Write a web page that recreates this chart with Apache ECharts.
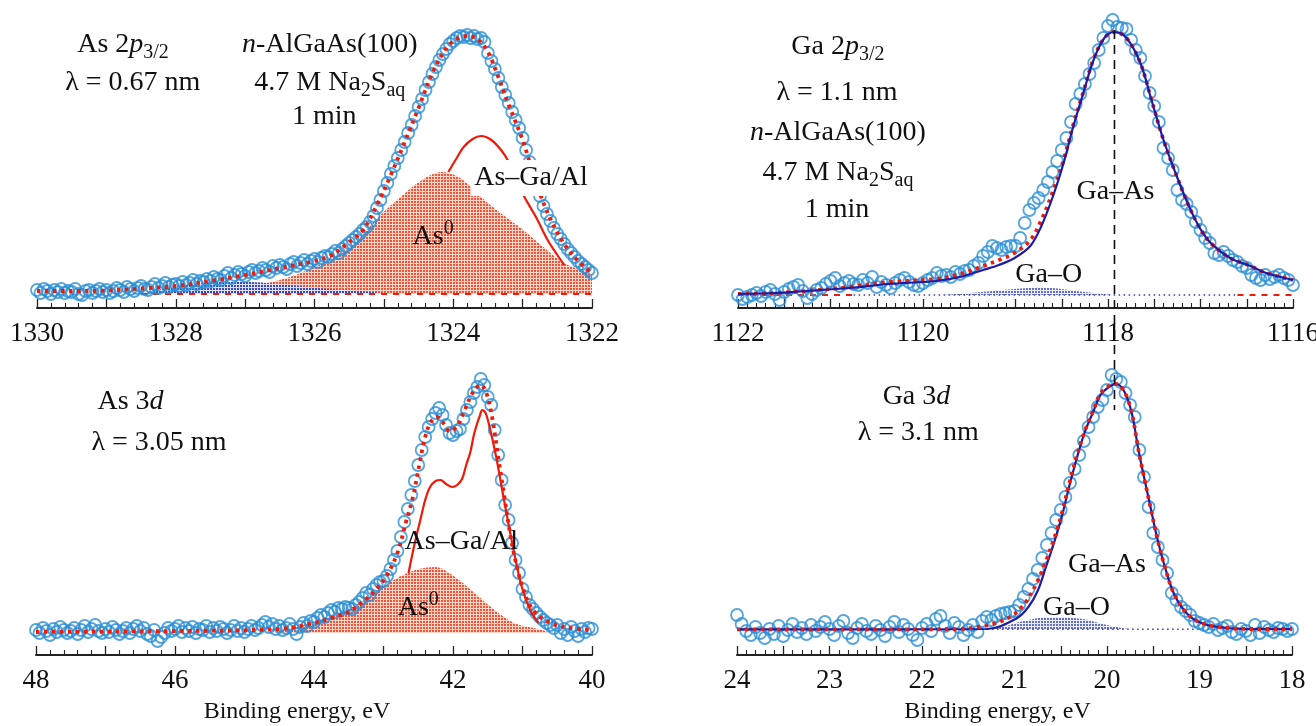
<!DOCTYPE html>
<html><head><meta charset="utf-8">
<script src="https://cdn.jsdelivr.net/npm/echarts@6/dist/echarts.min.js"></script>
<style>html,body{margin:0;padding:0;background:#fff}#c{width:1316px;height:726px}</style>
</head><body><div id="c"></div>
<script>
// ===================== DATA =====================
// Intensities are in arbitrary units (same scale inside each panel).
// ---- As 2p3/2 (binding energy, eV) ----
const as2pCircleStart = 1330, as2pCircleStep = -0.05;
const as2pCircles = [18,15,19,17,14,18,16,19,15,17,
 16,19,14,13,17,18,15,17,19,16,
 18,15,17,20,18,16,21,19,17,20,
 22,19,18,21,24,20,22,25,21,23,
 24,22,26,23,25,28,24,27,26,29,
 27,31,29,28,32,35,30,33,36,34,
 32,36,38,35,37,40,38,36,42,40,
 43,41,39,44,46,42,45,48,44,47,
 49,46,50,52,51,54,57,55,59,62,
 65,68,71,74,78,81,86,92,100,108,
 117,125,134,142,150,158,166,175,183,192,
 201,209,218,226,234,241,248,254,259,264,
 267,270,272,271,273,270,272,269,270,266,
 255,247,239,230,221,213,205,196,188,180,
 170,158,146,134,122,112,102,94,87,80,
 74,69,64,59,55,51,47,44,41,38,
 35];
const as2pFitX = [1330,1329.5,1329,1328.5,1328,1327.5,1327,1326.5,1326,1325.75,1325.5,1325.3,1325.1,1324.9,1324.7,1324.5,1324.3,1324.1,1323.95,1323.8,1323.65,1323.5,1323.35,1323.2,1323.0,1322.8,1322.6,1322.4,1322.2,1322.0];
const as2pFitY = [17,17,17.5,19.5,22,27,33,40,47,53,66,78,103,133,166,200,235,260,269,272,269,256,231,203,168,124,89,64,47,35];
const as2pAs0X = [1328.2,1327.5,1327.0,1326.5,1326.0,1325.5,1325.05,1324.76,1324.45,1324.16,1323.9,1323.6,1323.3,1322.99,1322.7,1322.4,1322.0];
const as2pAs0Y = [15,17,21,28,41,60,93,111,128,136,130,111,94,78,61,45,34];
const as2pAsGaX = [1324.07,1323.95,1323.85,1323.72,1323.6,1323.45,1323.3,1323.2,1323.1,1322.99,1322.8,1322.64,1322.5,1322.4];
const as2pAsGaY = [136,150,161,169,172,168,157,146,130,113,90,68,53,43];
const as2pOxX = [1328.5,1328.2,1327.9,1327.6,1327.3,1327.0,1326.7,1326.4,1326.1,1325.8,1325.5,1325.2,1324.9];
const as2pOxY = [14,19,23,25,26,26,25,23,21,19,17.5,16,14];
const as2pBaseX = [1328.5, 1322];
const as2pBase = 14;

// ---- Ga 2p3/2 ----
const ga2pCircleStart = 1122, ga2pCircleStep = -0.05;
const ga2pCircles = [13,9,11,13,15,12,16,18,14,8,
 16,19,21,23,17,10,14,18,20,24,
 27,30,22,25,27,24,23,28,25,31,
 21,26,23,20,25,28,30,26,23,22,
 25,28,30,35,32,33,31,36,34,37,
 38,42,45,52,56,62,60,58,61,62,
 62,70,85,98,105,110,118,126,136,147,
 158,170,186,204,214,224,234,245,258,270,
 282,288,281,280,279,268,258,250,232,215,
 202,186,160,150,138,118,108,104,96,86,
 78,70,65,55,53,56,52,48,46,42,
 40,33,30,28,33,29,31,33,30,28,
 23];
const ga2pFitX = [1122.0,1121.6,1121.26,1120.8,1120.37,1119.86,1119.6,1119.35,1119.18,1119.01,1118.84,1118.72,1118.59,1118.48,1118.38,1118.27,1118.16,1118.04,1117.93,1117.8,1117.65,1117.53,1117.4,1117.27,1117.14,1117.02,1116.89,1116.68,1116.46,1116.29,1116.0];
const ga2pFitY = [14,15,17,21,26,29,34,42,48,55,68,88,118,148,182,215,248,270,276,270,245,208,168,135,105,82,65,50,42,35,28];
const ga2pGaAsY = [14,15,17,20,24,27,31,38,43,50,62,82,113,145,180,214,247,270,276,270,245,208,168,135,105,82,65,50,42,35,28];
const ga2pGaOX = [1119.8,1119.5,1119.2,1118.95,1118.75,1118.55,1118.35,1118.15,1117.95];
const ga2pGaOY = [13,15,17.5,19.5,20.5,19.5,17,15,13];
const ga2pBase = 13;
const ga2pRedBaseX = [1122, 1120.75, null, 1116.6, 1116];
const ga2pBlueBaseX = [1120.75, 1116.6];
const ga2pPeak = 1117.93, ga2pPeakTop = 278;

// ---- As 3d ----
const as3dCircleStart = 48, as3dCircleStep = -0.05;
const as3dCircles = [25,22,27,24,20,26,23,28,25,22,
 24,27,21,25,29,23,26,30,24,22,
 26,23,28,25,21,24,27,22,26,29,
 24,27,21,19,25,14,18,22,27,24,
 26,29,23,27,24,28,22,26,25,29,
 23,27,24,28,26,22,25,29,24,27,
 23,26,29,25,27,30,33,28,31,26,
 29,25,27,31,26,21,28,32,29,34,
 33,37,40,38,42,45,43,47,46,48,
 47,46,50,53,57,62,60,66,70,73,
 74,79,86,95,104,118,133,146,160,174,
 190,205,218,228,236,242,247,240,230,222,
 220,224,226,236,245,253,262,268,276,270,
 258,250,225,200,175,150,135,112,95,82,
 66,58,50,46,42,38,35,32,30,27,
 30,22,26,20,28,24,19,26,23,27,
 26];
const as3dFitX = [48,46,44.5,44.0,43.7,43.5,43.3,43.1,42.95,42.8,42.68,42.57,42.48,42.4,42.32,42.23,42.15,42.05,41.95,41.85,41.75,41.67,41.6,41.52,41.43,41.35,41.26,41.18,41.1,41.0,40.85,40.6,40.3,40.0];
const as3dFitY = [23,24,26,32,38,43,53,66,80,102,132,160,192,218,233,238,233,224,228,242,258,267,270,262,235,198,158,122,94,68,45,32,27,25];
const as3dAsGaX = [42.64,42.55,42.47,42.4,42.33,42.25,42.18,42.1,42.01,41.94,41.87,41.81,41.75,41.7,41.65,41.61,41.58,41.54,41.51,41.44,41.37,41.3,41.22,41.12,41.01,40.89,40.77];
const as3dAsGaY = [82,112,135,155,168,174,175,171,168,170,176,190,203,220,232,240,245,243,238,218,195,168,138,102,68,45,32];
const as3dAs0X = [44.6,44.25,43.97,43.68,43.4,43.11,42.83,42.54,42.26,41.97,41.69,41.4,41.12,40.84,40.55];
const as3dAs0Y = [22,28,34,40,50,63,76,85,88,78,62,45,32,27,22];
const as3dBase = 22;

// ---- Ga 3d ----
const ga3dCircleStart = 24, ga3dCircleStep = -0.05;
const ga3dCircles = [40,31,24,20,28,22,17,26,21,29,
 19,25,31,23,27,21,30,24,28,33,
 26,20,29,34,22,17,27,31,24,21,
 29,25,19,28,33,23,30,26,20,15,
 27,31,24,36,39,29,22,32,28,20,
 25,30,23,34,38,35,39,41,42,43,
 44,50,58,66,76,85,97,110,122,135,
 145,158,172,186,200,214,228,238,248,255,
 265,280,276,273,262,250,238,205,178,148,
 122,108,95,82,62,55,48,44,40,34,
 32,30,28,31,25,27,29,23,21,26,
 24,20,30,22,28,25,23,27,26,24,
 26];
const ga3dFitX = [24,22,21.6,21.4,21.2,21.0,20.87,20.75,20.66,20.58,20.49,20.41,20.32,20.24,20.15,20.07,19.98,19.9,19.81,19.73,19.66,19.6,19.53,19.46,19.38,19.27,19.12,18.95,18.7,18.4,18.0];
const ga3dFitY = [25.7,25.7,26,28,32,41,54,74,94,114,141,171,201,224,244,261,269,271,263,241,205,178,148,118,90,60,40,31,27,26,26];
const ga3dGaAsX = [24,22.5,21.3,20.97,20.85,20.75,20.66,20.58,20.49,20.41,20.32,20.24,20.15,20.07,19.98,19.9,19.81,19.73,19.66,19.6,19.53,19.46,19.38,19.27,19.12,18.95,18.7,18.4,18.0];
const ga3dGaAsY = [25.7,25.7,26,37,48,64,88,110,138,168,199,223,243,260,268,271,263,241,205,178,148,118,90,60,40,31,27,26,26];
const ga3dGaOX = [21.35,21.1,20.95,20.8,20.65,20.5,20.35,20.2,20.05,19.9,19.75];
const ga3dGaOY = [25.7,29,33,36,38,38,37,35,31,28,25.7];
const ga3dBase = 25.7;
const ga3dBlueBaseX = [21.35, 18.9];
const ga3dPeak = 19.9, ga3dLineEnd = 245;

// ===================== RENDER =====================
const FONT = '"Liberation Serif", "Times New Roman", serif';
const RED = '#ee1a0a', CIRC = '#2a8fd6', NAVY = '#1c1ca6';
const chart = echarts.init(document.getElementById('c'), null, {renderer: 'canvas'});

function pattern(bg, dot, size, d) {
  const c = document.createElement('canvas'); c.width = size; c.height = size;
  const ctx = c.getContext('2d');
  if (bg) { ctx.fillStyle = bg; ctx.fillRect(0, 0, size, size); }
  ctx.fillStyle = dot; ctx.fillRect(0, 0, d, d);
  return {image: c, repeat: 'repeat'};
}
const redPat = pattern('#fcd6c8', '#f0553a', 3, 2);
const bluePat = pattern('#dfe2f6', '#3c46b6', 3, 2);
const bluePatLight = pattern('#eceefa', '#6470c8', 3, 2);

const pairs = (xs, ys) => xs.map((x, i) => [x, ys[i]]);
const stepped = (s, st, ys) => ys.map((y, i) => [+(s + i * st).toFixed(3), y]);
const flat = (xs, b) => xs.map(x => x === null ? [null, null] : [x, b]);

function xAxis(gi, min, max, interval, labelEvery, name) {
  const ax = {
    type: 'value', gridIndex: gi, min, max, interval, inverse: true,
    axisLine: {show: true, onZero: false, lineStyle: {color: '#222', width: 2}},
    axisTick: {show: true, inside: true, length: 9, lineStyle: {color: '#222', width: 1.3}},
    minorTick: {show: true, splitNumber: 5, length: 5, lineStyle: {color: '#222', width: 1.1}},
    splitLine: {show: false}, minorSplitLine: {show: false},
    axisLabel: {margin: 12, fontFamily: FONT, fontSize: 27, color: '#111', showMinLabel: true, showMaxLabel: true,
      formatter: v => (Math.abs(v / labelEvery - Math.round(v / labelEvery)) < 1e-6 ? String(Math.round(v)) : '')}
  };
  if (name) {
    Object.assign(ax, {name, nameLocation: 'middle', nameGap: 45,
      nameTextStyle: {fontFamily: FONT, fontSize: 24, color: '#111', padding: [0, 34, 0, 0]}});
  }
  return ax;
}
const yAxis = gi => ({type: 'value', gridIndex: gi, min: 0, max: 288, show: false});

const circles = (gi, data) => ({type: 'scatter', xAxisIndex: gi, yAxisIndex: gi, data, symbol: 'circle', symbolSize: 12, silent: true, z: 3,
  itemStyle: {color: 'rgba(255,255,255,0)', borderColor: CIRC, borderWidth: 1.8}});
const fit = (gi, data, z) => ({type: 'line', xAxisIndex: gi, yAxisIndex: gi, data, smooth: 0.35, showSymbol: false, silent: true, z: z || 5,
  lineStyle: {color: RED, width: 3.8, type: [3.4, 4.6]}});
const solid = (gi, data, color, w, z) => ({type: 'line', xAxisIndex: gi, yAxisIndex: gi, data, smooth: 0.35, showSymbol: false, silent: true, z: z || 4,
  lineStyle: {color, width: w}});
const area = (gi, data, pat, base) => ({type: 'line', xAxisIndex: gi, yAxisIndex: gi, data, smooth: 0.35, showSymbol: false, silent: true, z: 1,
  lineStyle: {width: 0, opacity: 0}, areaStyle: {color: pat, opacity: 1, origin: base}});
const baseLine = (gi, data, color, w, type) => ({type: 'line', xAxisIndex: gi, yAxisIndex: gi, data, showSymbol: false, silent: true, z: 2,
  connectNulls: false, lineStyle: {color, width: w, type}});

chart.setOption({
  animation: false,
  grid: [
    {left: 37, top: 20, width: 555, height: 288, outerBoundsMode: 'none'},
    {left: 738, top: 20, width: 555, height: 288, outerBoundsMode: 'none'},
    {left: 36, top: 367, width: 556, height: 288, outerBoundsMode: 'none'},
    {left: 737, top: 367, width: 555, height: 288, outerBoundsMode: 'none'}
  ],
  xAxis: [
    xAxis(0, 1322, 1330, 1, 2),
    xAxis(1, 1116, 1122, 0.5, 2),
    xAxis(2, 40, 48, 1, 2, 'Binding energy, eV'),
    xAxis(3, 18, 24, 0.5, 1, 'Binding energy, eV')
  ],
  yAxis: [yAxis(0), yAxis(1), yAxis(2), yAxis(3)],
  series: [
    // As 2p
    area(0, pairs(as2pAs0X, as2pAs0Y), redPat, as2pBase),
    area(0, pairs(as2pOxX, as2pOxY), bluePat, as2pBase),
    baseLine(0, flat(as2pBaseX, as2pBase), RED, 2, [6, 6]),
    circles(0, stepped(as2pCircleStart, as2pCircleStep, as2pCircles)),
    solid(0, pairs(as2pAsGaX, as2pAsGaY), RED, 2.2),
    fit(0, pairs(as2pFitX, as2pFitY)),
    // Ga 2p
    area(1, pairs(ga2pGaOX, ga2pGaOY), bluePatLight, ga2pBase),
    baseLine(1, flat(ga2pRedBaseX, ga2pBase), RED, 2, [6, 6]),
    baseLine(1, flat(ga2pBlueBaseX, ga2pBase), '#3a3ab0', 1.5, [1.5, 3.5]),
    circles(1, stepped(ga2pCircleStart, ga2pCircleStep, ga2pCircles)),
    fit(1, pairs(ga2pFitX, ga2pFitY), 4),
    solid(1, pairs(ga2pFitX, ga2pGaAsY), NAVY, 2.2, 5),
    // As 3d
    area(2, pairs(as3dAs0X, as3dAs0Y), redPat, as3dBase),
    circles(2, stepped(as3dCircleStart, as3dCircleStep, as3dCircles)),
    solid(2, pairs(as3dAsGaX, as3dAsGaY), RED, 2.2),
    fit(2, pairs(as3dFitX, as3dFitY)),
    // Ga 3d
    area(3, pairs(ga3dGaOX, ga3dGaOY), bluePatLight, ga3dBase),
    baseLine(3, flat(ga3dBlueBaseX, ga3dBase), '#3a3ab0', 1.5, [1.5, 3.5]),
    circles(3, stepped(ga3dCircleStart, ga3dCircleStep, ga3dCircles)),
    solid(3, pairs(ga3dGaAsX, ga3dGaAsY), NAVY, 2.2),
    fit(3, pairs(ga3dFitX, ga3dFitY))
  ]
});

// ---- annotations (placed in data coordinates of each panel) ----
const RICH = {
  n: {fontFamily: FONT, fontSize: 28, color: '#111', lineHeight: 36},
  i: {fontFamily: FONT, fontSize: 28, fontStyle: 'italic', color: '#111', lineHeight: 36},
  sub: {fontFamily: FONT, fontSize: 20, color: '#111', verticalAlign: 'bottom'},
  sup: {fontFamily: FONT, fontSize: 20, color: '#333', verticalAlign: 'top'},
  g: {fontFamily: FONT, fontSize: 28, color: '#333', lineHeight: 36}
};
const annotations = [
  {grid: 0, x: 1328.76, y: 263, text: '{n|As 2}{i|p}{sub|3/2}'},
  {grid: 0, x: 1328.62, y: 225, text: '{n|λ = 0.67 nm}'},
  {grid: 0, x: 1325.78, y: 263, text: '{i|n}{n|-AlGaAs(100)}'},
  {grid: 0, x: 1325.78, y: 225, text: '{n|4.7 M Na}{sub|2}{n|S}{sub|aq}'},
  {grid: 0, x: 1325.86, y: 191, text: '{n|1 min}'},
  {grid: 0, x: 1322.88, y: 130, text: '{n|As–Ga/Al}', bg: '#fff'},
  {grid: 0, x: 1324.29, y: 71, text: '{g|As}{sup|0}'},
  {grid: 1, x: 1120.92, y: 261, text: '{n|Ga 2}{i|p}{sub|3/2}'},
  {grid: 1, x: 1120.93, y: 215, text: '{n|λ = 1.1 nm}'},
  {grid: 1, x: 1120.92, y: 175, text: '{i|n}{n|-AlGaAs(100)}'},
  {grid: 1, x: 1120.92, y: 135, text: '{n|4.7 M Na}{sub|2}{n|S}{sub|aq}'},
  {grid: 1, x: 1120.93, y: 98, text: '{n|1 min}'},
  {grid: 1, x: 1117.92, y: 116, text: '{n|Ga–As}'},
  {grid: 1, x: 1118.64, y: 33, text: '{g|Ga–O}'},
  {grid: 2, x: 46.64, y: 253, text: '{n|As 3}{i|d}'},
  {grid: 2, x: 46.23, y: 212, text: '{n|λ = 3.05 nm}'},
  {grid: 2, x: 41.88, y: 113, text: '{n|As–Ga/Al}'},
  {grid: 2, x: 42.5, y: 47, text: '{g|As}{sup|0}'},
  {grid: 3, x: 22.06, y: 258, text: '{n|Ga 3}{i|d}'},
  {grid: 3, x: 22.04, y: 222, text: '{n|λ = 3.1 nm}'},
  {grid: 3, x: 20.0, y: 90, text: '{n|Ga–As}'},
  {grid: 3, x: 20.33, y: 47, text: '{g|Ga–O}'}
];
const gfx = annotations.map(a => {
  const p = chart.convertToPixel({gridIndex: a.grid}, [a.x, a.y]);
  const style = {text: a.text, rich: RICH, align: 'center', verticalAlign: 'middle', fill: '#111', font: '28px ' + FONT};
  if (a.bg) { style.backgroundColor = a.bg; style.padding = [0, 3]; }
  return {type: 'text', x: p[0], y: p[1], z: 50, style};
});
const pTop = chart.convertToPixel({gridIndex: 1}, [ga2pPeak, ga2pPeakTop]);
const pBot = chart.convertToPixel({gridIndex: 3}, [ga3dPeak, ga3dLineEnd]);
gfx.push({type: 'line', z: 60, shape: {x1: pTop[0], y1: pTop[1], x2: pTop[0], y2: pBot[1]},
  style: {stroke: '#111', lineWidth: 1.6, lineDash: [9, 6]}});
chart.setOption({graphic: gfx});
</script>
</body></html>
